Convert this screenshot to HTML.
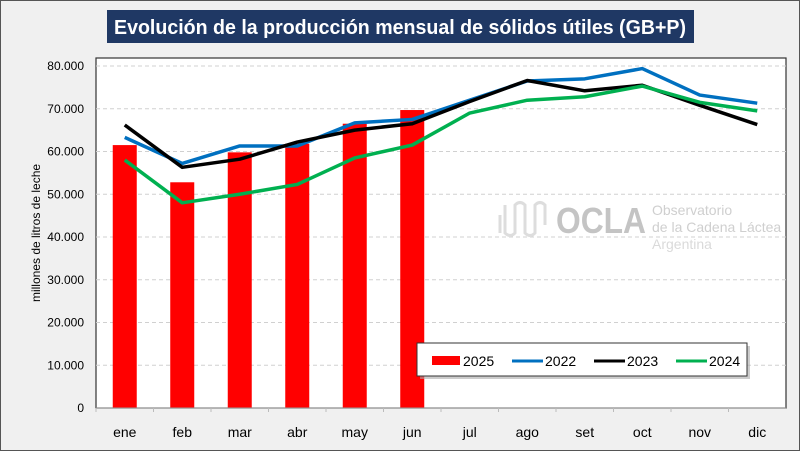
<!DOCTYPE html>
<html><head><meta charset="utf-8"><style>
body{margin:0;background:#f0f0f0;}
svg{display:block;font-family:"Liberation Sans",sans-serif;}
</style></head><body>
<svg id="c" width="800" height="451" viewBox="0 0 800 451">
<rect x="0.5" y="0.5" width="799" height="450" fill="#f0f0f0" stroke="#555"/>
<rect x="107" y="10" width="587" height="33" fill="#1f3864"/>
<text x="114" y="34" textLength="572" lengthAdjust="spacingAndGlyphs" fill="#fff" font-size="20" font-weight="bold">Evolución de la producción mensual de sólidos útiles (GB+P)</text>
<rect x="96" y="58" width="690" height="350" fill="#fff" stroke="#333" stroke-width="1.2"/>
<g id="grid"></g>
<g id="logo" fill="#c8c8c8">
<text x="556" y="233" font-size="36" font-weight="bold" fill="#c4c4c4" textLength="90" lengthAdjust="spacingAndGlyphs">OCLA</text>
<text x="652" y="215" font-size="14" fill="#cfcfcf">Observatorio</text>
<text x="652" y="232" font-size="14" fill="#cfcfcf">de la Cadena Láctea</text>
<text x="652" y="249" font-size="14" fill="#dadada">Argentina</text>
<path d="M500 215 v18 M505 205 v28 q5 5 10 0 v-28 q5 -5 10 0 v28 q5 5 10 0 v-28 q5 -5 10 0 v20" fill="none" stroke="#ddd" stroke-width="3"/>
</g>
<g id="marks"></g>
<text transform="translate(40,233) rotate(-90)" text-anchor="middle" font-size="12" fill="#000">millones de litros de leche</text>
<g>
<rect x="420" y="346" width="330" height="33" fill="#aaa" opacity="0.6"/>
<rect x="417" y="343" width="330" height="33" fill="#fff" stroke="#333"/>
<rect x="432" y="356" width="28" height="9" fill="#ff0000"/>
<text x="463" y="366" font-size="14">2025</text>
<line x1="512" y1="361" x2="543" y2="361" stroke="#0070c0" stroke-width="3"/>
<text x="545" y="366" font-size="14">2022</text>
<line x1="594" y1="361" x2="625" y2="361" stroke="#000" stroke-width="3"/>
<text x="627" y="366" font-size="14">2023</text>
<line x1="676" y1="361" x2="707" y2="361" stroke="#00b050" stroke-width="3"/>
<text x="709" y="366" font-size="14">2024</text>
</g>
</svg>
<script>
const categories=["ene","feb","mar","abr","may","jun","jul","ago","set","oct","nov","dic"];
const yTicks=[0,10000,20000,30000,40000,50000,60000,70000,80000];
const yTickLabels=["0","10.000","20.000","30.000","40.000","50.000","60.000","70.000","80.000"];
const s2025=[61500,52800,59800,61800,66500,69700];
const s2022=[63300,57200,61300,61300,66700,67500,72000,76500,77000,79400,73200,71300];
const s2023=[66200,56300,58200,62200,65000,66500,71700,76600,74200,75500,70800,66300];
const s2024=[58000,48000,50000,52300,58500,61500,69000,72000,72800,75300,71500,69500];
const NS="http://www.w3.org/2000/svg";
const L=96,R=786,T=66,B=408,MAX=80000;
const bw=(R-L)/categories.length;
function x(i){return L+bw*(i+0.5);}
function y(v){return B-(v/MAX)*(B-T);}
function mk(tag,attrs,parent){const e=document.createElementNS(NS,tag);for(const k in attrs)e.setAttribute(k,attrs[k]);parent.appendChild(e);return e;}
const grid=document.getElementById('grid'),marks=document.getElementById('marks'),svg=document.getElementById('c');
yTicks.forEach((v,i)=>{
 if(v>0){const g=mk('line',{x1:L,x2:R,y1:y(v),y2:y(v),stroke:'#d0d0d0','stroke-dasharray':'4 3'},grid);
 
 }
 const t=mk('text',{x:84,y:y(v)+4,'text-anchor':'end','font-size':'12'},svg);
 t.textContent=yTickLabels[i];
 
 
});
mk('line',{x1:L,x2:R,y1:B,y2:B,stroke:'#999'},svg);
categories.forEach((c,i)=>{
 mk('line',{x1:L+bw*i,x2:L+bw*i,y1:B,y2:B+4,stroke:'#bbb'},svg);
 const t=mk('text',{x:x(i),y:437,'text-anchor':'middle','font-size':'14'},svg);
 t.textContent=c;
 
 
});
s2025.forEach((v,i)=>{
 const r=mk('rect',{x:x(i)-12,y:y(v),width:24,height:B-y(v),fill:'#ff0000'},marks);
 
 
});
[[s2022,'#0070c0','2022'],[s2023,'#000','2023'],[s2024,'#00b050','2024']].forEach(([d,col,n])=>{
 const p=mk('polyline',{points:d.map((v,i)=>x(i)+','+y(v)).join(' '),fill:'none',stroke:col,'stroke-width':3.5,'stroke-linejoin':'round'},marks);
 
 
});
</script>
</body></html>
